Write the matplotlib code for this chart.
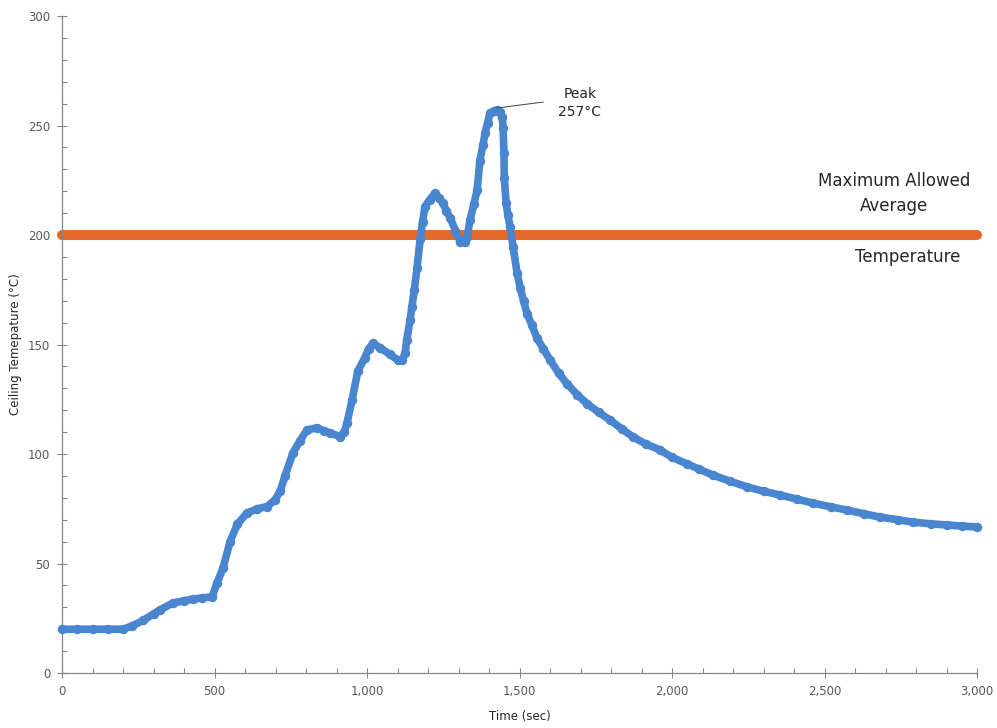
import matplotlib.pyplot as plt
from matplotlib.ticker import MultipleLocator, FuncFormatter

# ceiling temperature readings (sec, degC)
time_s = [0, 50, 100, 150, 200, 230, 266, 300, 321, 364, 400, 430, 460, 492,
          508, 528, 551, 575, 606, 640, 672, 698, 715, 731, 757, 780, 803, 836,
          860, 879, 911, 925, 934, 951, 970, 993, 1005, 1020, 1043, 1075, 1100,
          1115, 1125, 1130, 1141, 1147, 1155, 1164, 1174, 1182, 1190, 1205, 1223,
          1235, 1249, 1260, 1272, 1290, 1305, 1320, 1328, 1338, 1350, 1361, 1370,
          1380, 1387, 1395, 1403, 1415, 1426, 1435, 1443, 1446, 1449, 1450, 1456,
          1462, 1469, 1479, 1492, 1502, 1513, 1525, 1540, 1557, 1578, 1600, 1628,
          1656, 1690, 1721, 1760, 1797, 1835, 1872, 1915, 1961, 2000, 2049, 2090,
          2134, 2190, 2246, 2300, 2354, 2410, 2462, 2520, 2574, 2630, 2682, 2740,
          2790, 2850, 2902, 2950, 3000]
temp_c = [20, 20, 20, 20, 20, 21.5, 24, 27, 28.8, 32, 33, 33.8, 34.3, 34.8,
          41, 48, 60, 68, 73, 75, 76, 79, 83, 90, 100.5, 106, 111, 112,
          110.5, 109.6, 108, 110, 114, 124.7, 138, 144, 148, 150.5, 148.5, 145.5, 143,
          143, 146, 152, 161, 167, 175, 185, 198, 206, 213, 216, 219,
          217, 214.6, 211, 208, 202, 197, 197, 199, 207, 214, 220.5, 234,
          241, 246.6, 251, 255.7, 256.5, 257, 256, 254, 249, 237.5, 226, 214.6,
          209, 203.7, 194.5, 182.6, 176, 170, 164, 159, 153, 148, 143, 137,
          132, 127, 123, 119, 115.5, 111.5, 107.8, 104.5, 101.8, 98.5, 95.5, 93,
          90.4, 87.6, 85, 83, 81.3, 79.4, 77.6, 75.9, 74.4, 72.7, 71.2, 70,
          68.9, 68.1, 67.6, 67.1, 66.7]

limit_x = [0, 3000]
limit_y = [200, 200]

blue = '#4a86cf'
orange = '#e5692a'
grey = '#595959'

fig = plt.figure(figsize=(9.97, 7.28), dpi=100)
ax = fig.add_axes([0.0622, 0.0755, 0.9178, 0.9025])

ax.plot(limit_x, limit_y, color=orange, lw=7.2, solid_capstyle='round',
        clip_on=False, zorder=2)
ax.plot(time_s, temp_c, color=blue, lw=5.5, marker='o', ms=5.8,
        solid_capstyle='round', solid_joinstyle='round', clip_on=False, zorder=3)

ax.set_xlim(0, 3000)
ax.set_ylim(0, 300)
ax.xaxis.set_major_locator(MultipleLocator(500))
ax.xaxis.set_minor_locator(MultipleLocator(100))
ax.yaxis.set_major_locator(MultipleLocator(50))
ax.yaxis.set_minor_locator(MultipleLocator(10))
ax.xaxis.set_major_formatter(FuncFormatter(lambda v, p: f'{int(v):,}'))

for s in ['top', 'right']:
    ax.spines[s].set_visible(False)
for s in ['left', 'bottom']:
    ax.spines[s].set_color('#868686')
    ax.spines[s].set_linewidth(0.9)

ax.tick_params(which='major', direction='inout', length=7, width=0.8,
               color='#868686', labelsize=8.5, labelcolor=grey, pad=5)
ax.tick_params(which='minor', direction='in', length=3.5, width=0.8,
               color='#868686')

ax.set_xlabel('Time (sec)', fontsize=8.5, color='#262626', labelpad=9)
ax.set_ylabel('Ceiling Temepature (°C)', fontsize=8.5, color='#262626', labelpad=4)

# peak annotation
ax.plot([1426, 1577], [258, 260.7], color='#404040', lw=0.7, zorder=4)
ax.text(1698, 260.3, 'Peak\n257°C', ha='center', va='center', fontsize=10,
        color='#262626', linespacing=1.35)

ax.text(2728, 219, 'Maximum Allowed\nAverage', ha='center', va='center',
        fontsize=12, color='#262626', linespacing=1.45)
ax.text(2774, 190, 'Temperature', ha='center', va='center', fontsize=12,
        color='#262626')

fig.savefig('out.png', dpi=100)
